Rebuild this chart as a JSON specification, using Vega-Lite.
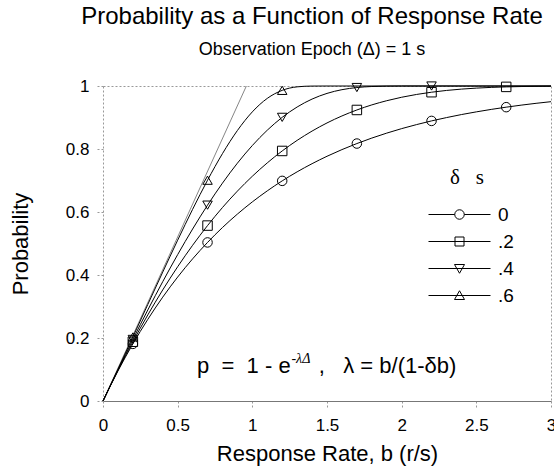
{
  "$schema": "https://vega.github.io/schema/vega-lite/v6.json",
  "autosize": {"type": "none"},
  "padding": {"left": 103, "top": 86, "right": 3, "bottom": 75},
  "width": 448,
  "height": 315,
  "background": "white",
  "title": {
    "text": "Probability as a Function of Response Rate",
    "subtitle": "Observation Epoch (Δ) = 1 s",
    "anchor": "middle",
    "frame": "group",
    "dx": -15,
    "font": "Liberation Sans",
    "fontSize": 24,
    "fontWeight": "normal",
    "color": "black",
    "subtitleFont": "Liberation Sans",
    "subtitleFontSize": 18,
    "subtitleColor": "black",
    "subtitlePadding": 12,
    "offset": 18
  },
  "config": {
    "view": {"stroke": "#999", "strokeDash": [2, 2], "strokeWidth": 1},
    "axis": {
      "grid": false,
      "labelFlush": false,
      "labelOverlap": false,
      "labelFont": "Liberation Sans",
      "labelColor": "black",
      "titleFont": "Liberation Sans",
      "titleFontWeight": "normal",
      "titleColor": "black",
      "tickColor": "#999",
      "tickDash": [2, 2]
    },
    "axisX": {"domainColor": "#777", "tickSize": 7, "labelFontSize": 17, "labelPadding": 9, "titleFontSize": 22, "titlePadding": 10},
    "axisY": {"domain": false, "tickSize": 8, "labelFontSize": 17, "labelPadding": 6, "titleFontSize": 22, "titlePadding": 33}
  },
  "datasets": {
    "tangent": [{"b": 0, "p": 0}, {"b": 0.96, "p": 1}],
    "curves": [
      {"d": "0", "b": 0, "p": 0}, {"d": "0", "b": 0.1, "p": 0.0952}, {"d": "0", "b": 0.2, "p": 0.1813}, {"d": "0", "b": 0.3, "p": 0.2592}, {"d": "0", "b": 0.4, "p": 0.3297}, {"d": "0", "b": 0.5, "p": 0.3935}, {"d": "0", "b": 0.6, "p": 0.4512}, {"d": "0", "b": 0.7, "p": 0.5034}, {"d": "0", "b": 0.8, "p": 0.5507}, {"d": "0", "b": 0.9, "p": 0.5934}, {"d": "0", "b": 1.0, "p": 0.6321}, {"d": "0", "b": 1.1, "p": 0.6671}, {"d": "0", "b": 1.2, "p": 0.6988}, {"d": "0", "b": 1.3, "p": 0.7275}, {"d": "0", "b": 1.4, "p": 0.7534}, {"d": "0", "b": 1.5, "p": 0.7769}, {"d": "0", "b": 1.6, "p": 0.7981}, {"d": "0", "b": 1.7, "p": 0.8173}, {"d": "0", "b": 1.8, "p": 0.8347}, {"d": "0", "b": 1.9, "p": 0.8504}, {"d": "0", "b": 2.0, "p": 0.8647}, {"d": "0", "b": 2.1, "p": 0.8775}, {"d": "0", "b": 2.2, "p": 0.8892}, {"d": "0", "b": 2.3, "p": 0.8997}, {"d": "0", "b": 2.4, "p": 0.9093}, {"d": "0", "b": 2.5, "p": 0.9179}, {"d": "0", "b": 2.6, "p": 0.9257}, {"d": "0", "b": 2.7, "p": 0.9328}, {"d": "0", "b": 2.8, "p": 0.9392}, {"d": "0", "b": 2.9, "p": 0.945}, {"d": "0", "b": 3.0, "p": 0.9502},
      {"d": ".2", "b": 0, "p": 0}, {"d": ".2", "b": 0.1, "p": 0.097}, {"d": ".2", "b": 0.2, "p": 0.1881}, {"d": ".2", "b": 0.3, "p": 0.2733}, {"d": ".2", "b": 0.4, "p": 0.3526}, {"d": ".2", "b": 0.5, "p": 0.4262}, {"d": ".2", "b": 0.6, "p": 0.4943}, {"d": ".2", "b": 0.7, "p": 0.5569}, {"d": ".2", "b": 0.8, "p": 0.6142}, {"d": ".2", "b": 0.9, "p": 0.6663}, {"d": ".2", "b": 1.0, "p": 0.7135}, {"d": ".2", "b": 1.1, "p": 0.7559}, {"d": ".2", "b": 1.2, "p": 0.7938}, {"d": ".2", "b": 1.3, "p": 0.8274}, {"d": ".2", "b": 1.4, "p": 0.8569}, {"d": ".2", "b": 1.5, "p": 0.8827}, {"d": ".2", "b": 1.6, "p": 0.9049}, {"d": ".2", "b": 1.7, "p": 0.9239}, {"d": ".2", "b": 1.8, "p": 0.94}, {"d": ".2", "b": 1.9, "p": 0.9533}, {"d": ".2", "b": 2.0, "p": 0.9643}, {"d": ".2", "b": 2.1, "p": 0.9732}, {"d": ".2", "b": 2.2, "p": 0.9803}, {"d": ".2", "b": 2.3, "p": 0.9859}, {"d": ".2", "b": 2.4, "p": 0.9901}, {"d": ".2", "b": 2.5, "p": 0.9933}, {"d": ".2", "b": 2.6, "p": 0.9956}, {"d": ".2", "b": 2.7, "p": 0.9972}, {"d": ".2", "b": 2.8, "p": 0.9983}, {"d": ".2", "b": 2.9, "p": 0.999}, {"d": ".2", "b": 3.0, "p": 0.9994},
      {"d": ".4", "b": 0, "p": 0}, {"d": ".4", "b": 0.1, "p": 0.0989}, {"d": ".4", "b": 0.2, "p": 0.1954}, {"d": ".4", "b": 0.3, "p": 0.2889}, {"d": ".4", "b": 0.4, "p": 0.3788}, {"d": ".4", "b": 0.5, "p": 0.4647}, {"d": ".4", "b": 0.6, "p": 0.5459}, {"d": ".4", "b": 0.7, "p": 0.6218}, {"d": ".4", "b": 0.8, "p": 0.6916}, {"d": ".4", "b": 0.9, "p": 0.755}, {"d": ".4", "b": 1.0, "p": 0.8111}, {"d": ".4", "b": 1.1, "p": 0.8597}, {"d": ".4", "b": 1.2, "p": 0.9005}, {"d": ".4", "b": 1.3, "p": 0.9333}, {"d": ".4", "b": 1.4, "p": 0.9585}, {"d": ".4", "b": 1.5, "p": 0.9765}, {"d": ".4", "b": 1.6, "p": 0.9883}, {"d": ".4", "b": 1.7, "p": 0.9951}, {"d": ".4", "b": 1.8, "p": 0.9984}, {"d": ".4", "b": 1.9, "p": 0.9996}, {"d": ".4", "b": 2.0, "p": 1.0}, {"d": ".4", "b": 2.5, "p": 1.0}, {"d": ".4", "b": 3.0, "p": 1.0},
      {"d": ".6", "b": 0, "p": 0}, {"d": ".6", "b": 0.1, "p": 0.1009}, {"d": ".6", "b": 0.2, "p": 0.2033}, {"d": ".6", "b": 0.3, "p": 0.3064}, {"d": ".6", "b": 0.4, "p": 0.4092}, {"d": ".6", "b": 0.5, "p": 0.5105}, {"d": ".6", "b": 0.6, "p": 0.6084}, {"d": ".6", "b": 0.7, "p": 0.7009}, {"d": ".6", "b": 0.8, "p": 0.7853}, {"d": ".6", "b": 0.9, "p": 0.8587}, {"d": ".6", "b": 1.0, "p": 0.9179}, {"d": ".6", "b": 1.1, "p": 0.9607}, {"d": ".6", "b": 1.2, "p": 0.9862}, {"d": ".6", "b": 1.3, "p": 0.9973}, {"d": ".6", "b": 1.4, "p": 0.9998}, {"d": ".6", "b": 1.5, "p": 1.0}, {"d": ".6", "b": 2.0, "p": 1.0}, {"d": ".6", "b": 3.0, "p": 1.0}
    ],
    "markers": [
      {"d": "0", "b": 0.2, "p": 0.1813}, {"d": "0", "b": 0.7, "p": 0.5034}, {"d": "0", "b": 1.2, "p": 0.6988}, {"d": "0", "b": 1.7, "p": 0.8173}, {"d": "0", "b": 2.2, "p": 0.8892}, {"d": "0", "b": 2.7, "p": 0.9328},
      {"d": ".2", "b": 0.2, "p": 0.1881}, {"d": ".2", "b": 0.7, "p": 0.5569}, {"d": ".2", "b": 1.2, "p": 0.7938}, {"d": ".2", "b": 1.7, "p": 0.9239}, {"d": ".2", "b": 2.2, "p": 0.9803}, {"d": ".2", "b": 2.7, "p": 0.9972},
      {"d": ".4", "b": 0.2, "p": 0.1954}, {"d": ".4", "b": 0.7, "p": 0.6218}, {"d": ".4", "b": 1.2, "p": 0.9005}, {"d": ".4", "b": 1.7, "p": 0.9951}, {"d": ".4", "b": 2.2, "p": 1.0},
      {"d": ".6", "b": 0.2, "p": 0.2033}, {"d": ".6", "b": 0.7, "p": 0.7009}, {"d": ".6", "b": 1.2, "p": 0.9862}
    ],
    "one": [{}]
  },
  "layer": [
    {
      "data": {"name": "tangent"},
      "mark": {"type": "line", "color": "#666", "strokeWidth": 0.8},
      "encoding": {
        "x": {"field": "b", "type": "quantitative", "scale": {"domain": [0, 3]}, "axis": {"values": [0, 0.5, 1, 1.5, 2, 2.5, 3], "format": "~g", "title": "Response Rate, b (r/s)"}},
        "y": {"field": "p", "type": "quantitative", "scale": {"domain": [0, 1]}, "axis": {"values": [0, 0.2, 0.4, 0.6, 0.8, 1], "format": "~g", "title": "Probability"}}
      }
    },
    {
      "data": {"name": "curves"},
      "mark": {"type": "line", "color": "black", "strokeWidth": 1, "interpolate": "monotone"},
      "encoding": {
        "x": {"field": "b", "type": "quantitative"},
        "y": {"field": "p", "type": "quantitative"},
        "detail": {"field": "d", "type": "nominal"}
      }
    },
    {
      "data": {"name": "markers"},
      "mark": {"type": "point", "filled": false, "color": "black", "strokeWidth": 1, "size": 90, "opacity": 1},
      "encoding": {
        "x": {"field": "b", "type": "quantitative"},
        "y": {"field": "p", "type": "quantitative"},
        "shape": {"field": "d", "type": "nominal", "scale": {"domain": ["0", ".2", ".4", ".6"], "range": ["circle", "square", "triangle-down", "triangle-up"]}, "legend": null}
      }
    },
    {
      "data": {"name": "markers"},
      "mark": {"type": "point", "filled": false, "color": "black", "strokeWidth": 1, "size": 100, "opacity": 0},
      "encoding": {
        "x": {"field": "b", "type": "quantitative"},
        "y": {"field": "p", "type": "quantitative"},
        "shape": {
          "field": "d", "type": "nominal",
          "scale": {"domain": ["0", ".2", ".4", ".6"], "range": [
            "M-6.2,0H-0.95M0.95,0H6.2M0.95,0A0.95,0.95 0 1,1 -0.95,0A0.95,0.95 0 1,1 0.95,0",
            "M-6.2,0H6.2M-0.9,-0.9H0.9V0.9H-0.9Z",
            "M-6.2,0H6.2M-1,-0.8L1,-0.8L0,0.95Z",
            "M-6.2,0H6.2M0,-0.95L-1,0.8L1,0.8Z"
          ]},
          "legend": {
            "orient": "none", "legendX": 347, "legendY": 81,
            "title": "δ\u00a0\u00a0\u00a0s", "titleFont": "Liberation Serif", "titleFontSize": 21, "titleFontWeight": "normal", "titleColor": "black", "titlePadding": 17,
            "labelFont": "Liberation Sans", "labelFontSize": 19, "labelColor": "black", "labelOffset": 29,
            "symbolSize": 100, "symbolStrokeColor": "black", "symbolStrokeWidth": 1, "symbolFillColor": "transparent", "symbolOpacity": 1,
            "rowPadding": 7
          }
        }
      }
    },
    {
      "data": {"name": "one"},
      "mark": {"type": "text", "align": "left", "baseline": "alphabetic", "font": "Liberation Sans", "fontSize": 22, "color": "black", "text": "p\u00a0\u00a0=\u00a0\u00a01\u00a0-\u00a0e"},
      "encoding": {"x": {"datum": 0.63, "type": "quantitative"}, "y": {"datum": 0.088, "type": "quantitative"}}
    },
    {
      "data": {"name": "one"},
      "mark": {"type": "text", "align": "left", "baseline": "alphabetic", "font": "Liberation Serif", "fontStyle": "italic", "fontSize": 14, "color": "black", "text": "-λΔ"},
      "encoding": {"x": {"datum": 1.262, "type": "quantitative"}, "y": {"datum": 0.122, "type": "quantitative"}}
    },
    {
      "data": {"name": "one"},
      "mark": {"type": "text", "align": "left", "baseline": "alphabetic", "font": "Liberation Sans", "fontSize": 22, "color": "black", "text": ",\u00a0\u00a0\u00a0λ\u00a0=\u00a0b/(1-δb)"},
      "encoding": {"x": {"datum": 1.445, "type": "quantitative"}, "y": {"datum": 0.088, "type": "quantitative"}}
    }
  ],
  "resolve": {"scale": {"shape": "independent"}}
}
